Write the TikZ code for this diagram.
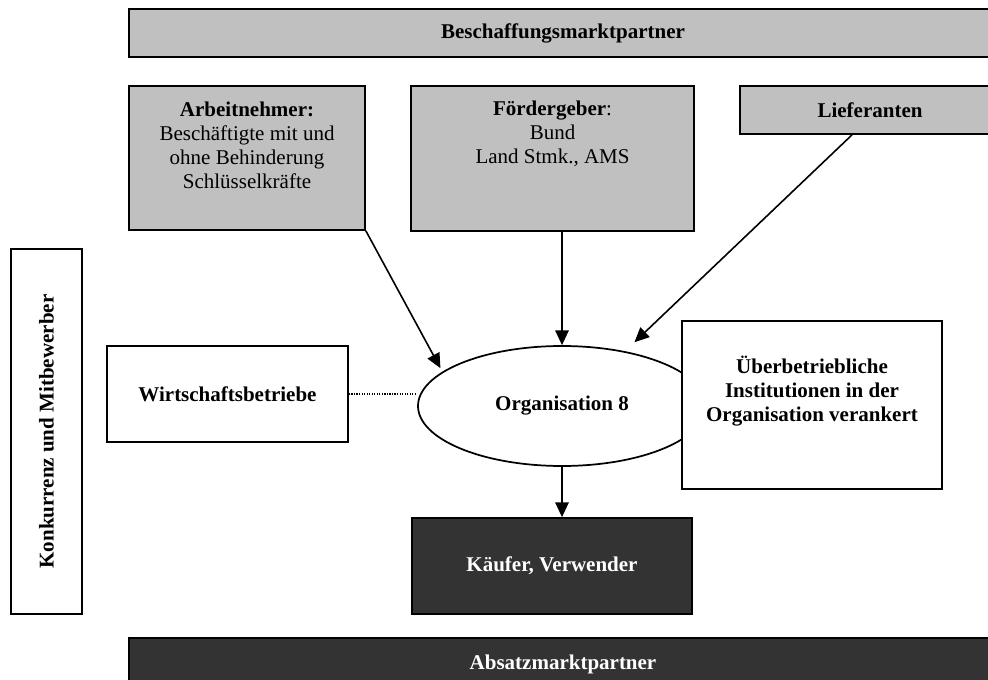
\documentclass[tikz,border=0pt]{standalone}
\usepackage{fontspec}
\setmainfont{Liberation Serif}
\usetikzlibrary{arrows.meta,shapes.geometric}
\definecolor{paneGray}{HTML}{C0C0C0}
\definecolor{paneDark}{HTML}{333333}
\newcommand\diagfont{\fontsize{15.75}{18}\selectfont}
\begin{document}
\begin{tikzpicture}[x=0.75pt,y=-0.75pt,
  font=\diagfont,
  frame/.style={draw=black, line width=1.3pt, rectangle, inner sep=0pt, align=center},
  grayframe/.style={frame, fill=paneGray},
  darkframe/.style={frame, fill=paneDark, text=white},
  whiteframe/.style={frame, fill=white},
  bold/.style={font=\diagfont\bfseries},
  boxtext/.style={align=center, inner sep=0pt},
  flow/.style={-{Triangle[length=11pt,width=10pt]}, line width=1.2pt},
]
\useasboundingbox (0,0) rectangle (988,680);
\clip (0,0) rectangle (988,680);
\fill[white] (0,0) rectangle (988,680);

% procurement side
\node[grayframe, bold, minimum width=651pt, minimum height=36pt] (buyside) at (563,33) {Beschaffungsmarktpartner};

\node[grayframe, minimum width=177pt, minimum height=108pt] (arb) at (247,158) {};
\node[boxtext] (arbtext) at (247,145) {\textbf{Arbeitnehmer:}\\Beschäftigte mit und\\ohne Behinderung\\Schlüsselkräfte};

\node[grayframe, minimum width=212.25pt, minimum height=108.75pt] (foerd) at (552.5,158.5) {};
\node[boxtext] (foerdtext) at (552.5,134) {\textbf{Fördergeber}:\\Bund\\Land Stmk., AMS};

\node[grayframe, bold, minimum width=195pt, minimum height=36pt] (lief) at (870,110) {Lieferanten};

% competition
\node[whiteframe, bold, rotate=90, minimum width=273.75pt, minimum height=53.25pt] (konk) at (46.5,431.5) {Konkurrenz und Mitbewerber};
\node[whiteframe, bold, minimum width=180.75pt, minimum height=72pt] (wirt) at (227.5,394) {Wirtschaftsbetriebe};

% the organisation itself
\node[draw, ellipse, line width=1.3pt, fill=white, bold, inner sep=0pt,
      minimum width=216pt, minimum height=90pt] (org) at (562,406) {Organisation 8};

\node[whiteframe, minimum width=195pt, minimum height=126pt] (ueber) at (812,405) {};
\node[boxtext, bold] (uebertext) at (812,391) {Überbetriebliche\\Institutionen in der\\Organisation verankert};

% sales side
\node[darkframe, bold, minimum width=210pt, minimum height=72pt] (kaeufer) at (552,566) {Käufer, Verwender};
\node[darkframe, bold, minimum width=651pt, minimum height=39pt] (sellside) at (563,664) {Absatzmarktpartner};

% connectors
\draw[flow] (org.north |- foerd.south) -- (org.north);
\draw[flow, shorten >=3pt] (arb.south east) -- (org.164);
\draw[flow, shorten >=9.75pt] ([xshift=-13.5pt]lief.south) -- (org.41);
\draw[flow] (org.south) -- (org.south |- kaeufer.north);
\draw[densely dotted, line width=0.9pt] (wirt.east) -- (wirt.east -| org.west);
\end{tikzpicture}
\end{document}
